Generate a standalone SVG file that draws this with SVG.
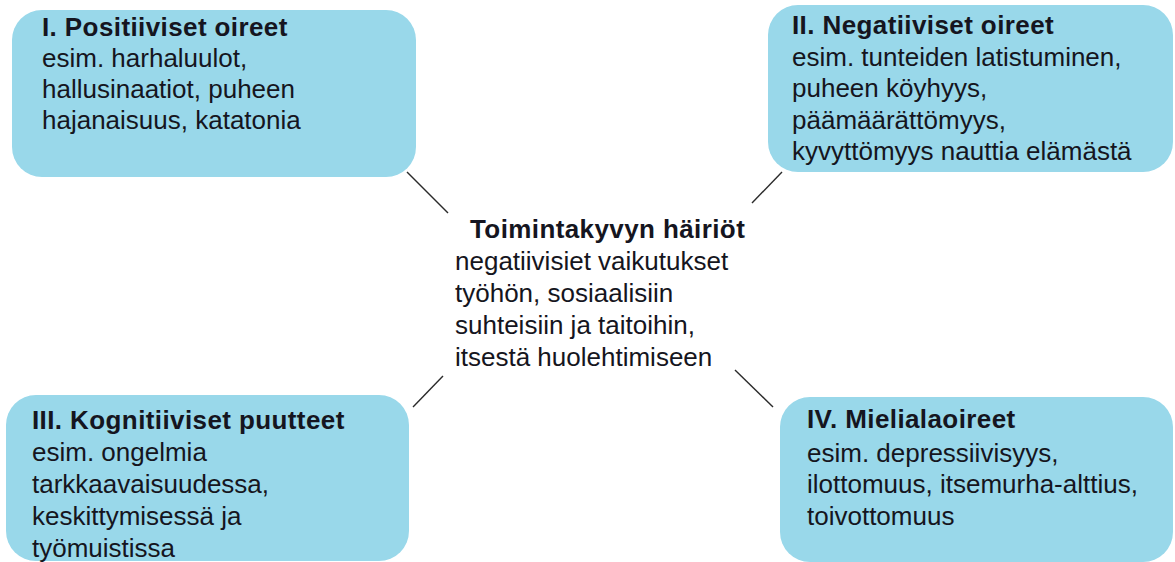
<svg xmlns="http://www.w3.org/2000/svg" width="1175" height="562" viewBox="0 0 1175 562">
<style>
.box{fill:#99d8ea;}
.t{font-family:"Liberation Sans",Arial,sans-serif;font-size:26px;fill:#151520;}
.b{font-weight:bold;letter-spacing:0.4px;}
.c{stroke:#2a2a2a;stroke-width:1.4;fill:none;}
</style>
<rect width="1175" height="562" fill="#fff"/>
<g id="connectors">
<line class="c" x1="407" y1="172" x2="448" y2="213"/>
<line class="c" x1="782" y1="172" x2="752" y2="203"/>
<line class="c" x1="443" y1="376" x2="413" y2="407"/>
<line class="c" x1="735" y1="370" x2="773" y2="407"/>
</g>
<g id="node-positive">
<rect class="box" x="12" y="10" width="404" height="167" rx="30"/>
<text class="t b" x="42" y="36">I. Positiiviset oireet</text>
<text class="t" x="42" y="67">esim. harhaluulot,</text>
<text class="t" x="42" y="98">hallusinaatiot, puheen</text>
<text class="t" x="42" y="129">hajanaisuus, katatonia</text>
</g>
<g id="node-negative">
<rect class="box" x="768" y="5" width="405" height="167" rx="30"/>
<text class="t b" x="792" y="34">II. Negatiiviset oireet</text>
<text class="t" x="792" y="65.5">esim. tunteiden latistuminen,</text>
<text class="t" x="792" y="97">puheen köyhyys,</text>
<text class="t" x="792" y="128.5">päämäärättömyys,</text>
<text class="t" x="792" y="160">kyvyttömyys nauttia elämästä</text>
</g>
<g id="node-center">
<text class="t b" x="470" y="238">Toimintakyvyn häiriöt</text>
<text class="t" x="455" y="270">negatiivisiet vaikutukset</text>
<text class="t" x="455" y="302">työhön, sosiaalisiin</text>
<text class="t" x="455" y="334">suhteisiin ja taitoihin,</text>
<text class="t" x="455" y="366">itsestä huolehtimiseen</text>
</g>
<g id="node-cognitive">
<rect class="box" x="6" y="395" width="403" height="166" rx="30"/>
<text class="t b" x="32" y="429">III. Kognitiiviset puutteet</text>
<text class="t" x="32" y="461">esim. ongelmia</text>
<text class="t" x="32" y="493">tarkkaavaisuudessa,</text>
<text class="t" x="32" y="525">keskittymisessä ja</text>
<text class="t" x="32" y="557">työmuistissa</text>
</g>
<g id="node-mood">
<rect class="box" x="780" y="397" width="393" height="165" rx="30"/>
<text class="t b" x="807" y="428">IV. Mielialaoireet</text>
<text class="t" x="807" y="462">esim. depressiivisyys,</text>
<text class="t" x="807" y="493">ilottomuus, itsemurha-alttius,</text>
<text class="t" x="807" y="525">toivottomuus</text>
</g>
</svg>
